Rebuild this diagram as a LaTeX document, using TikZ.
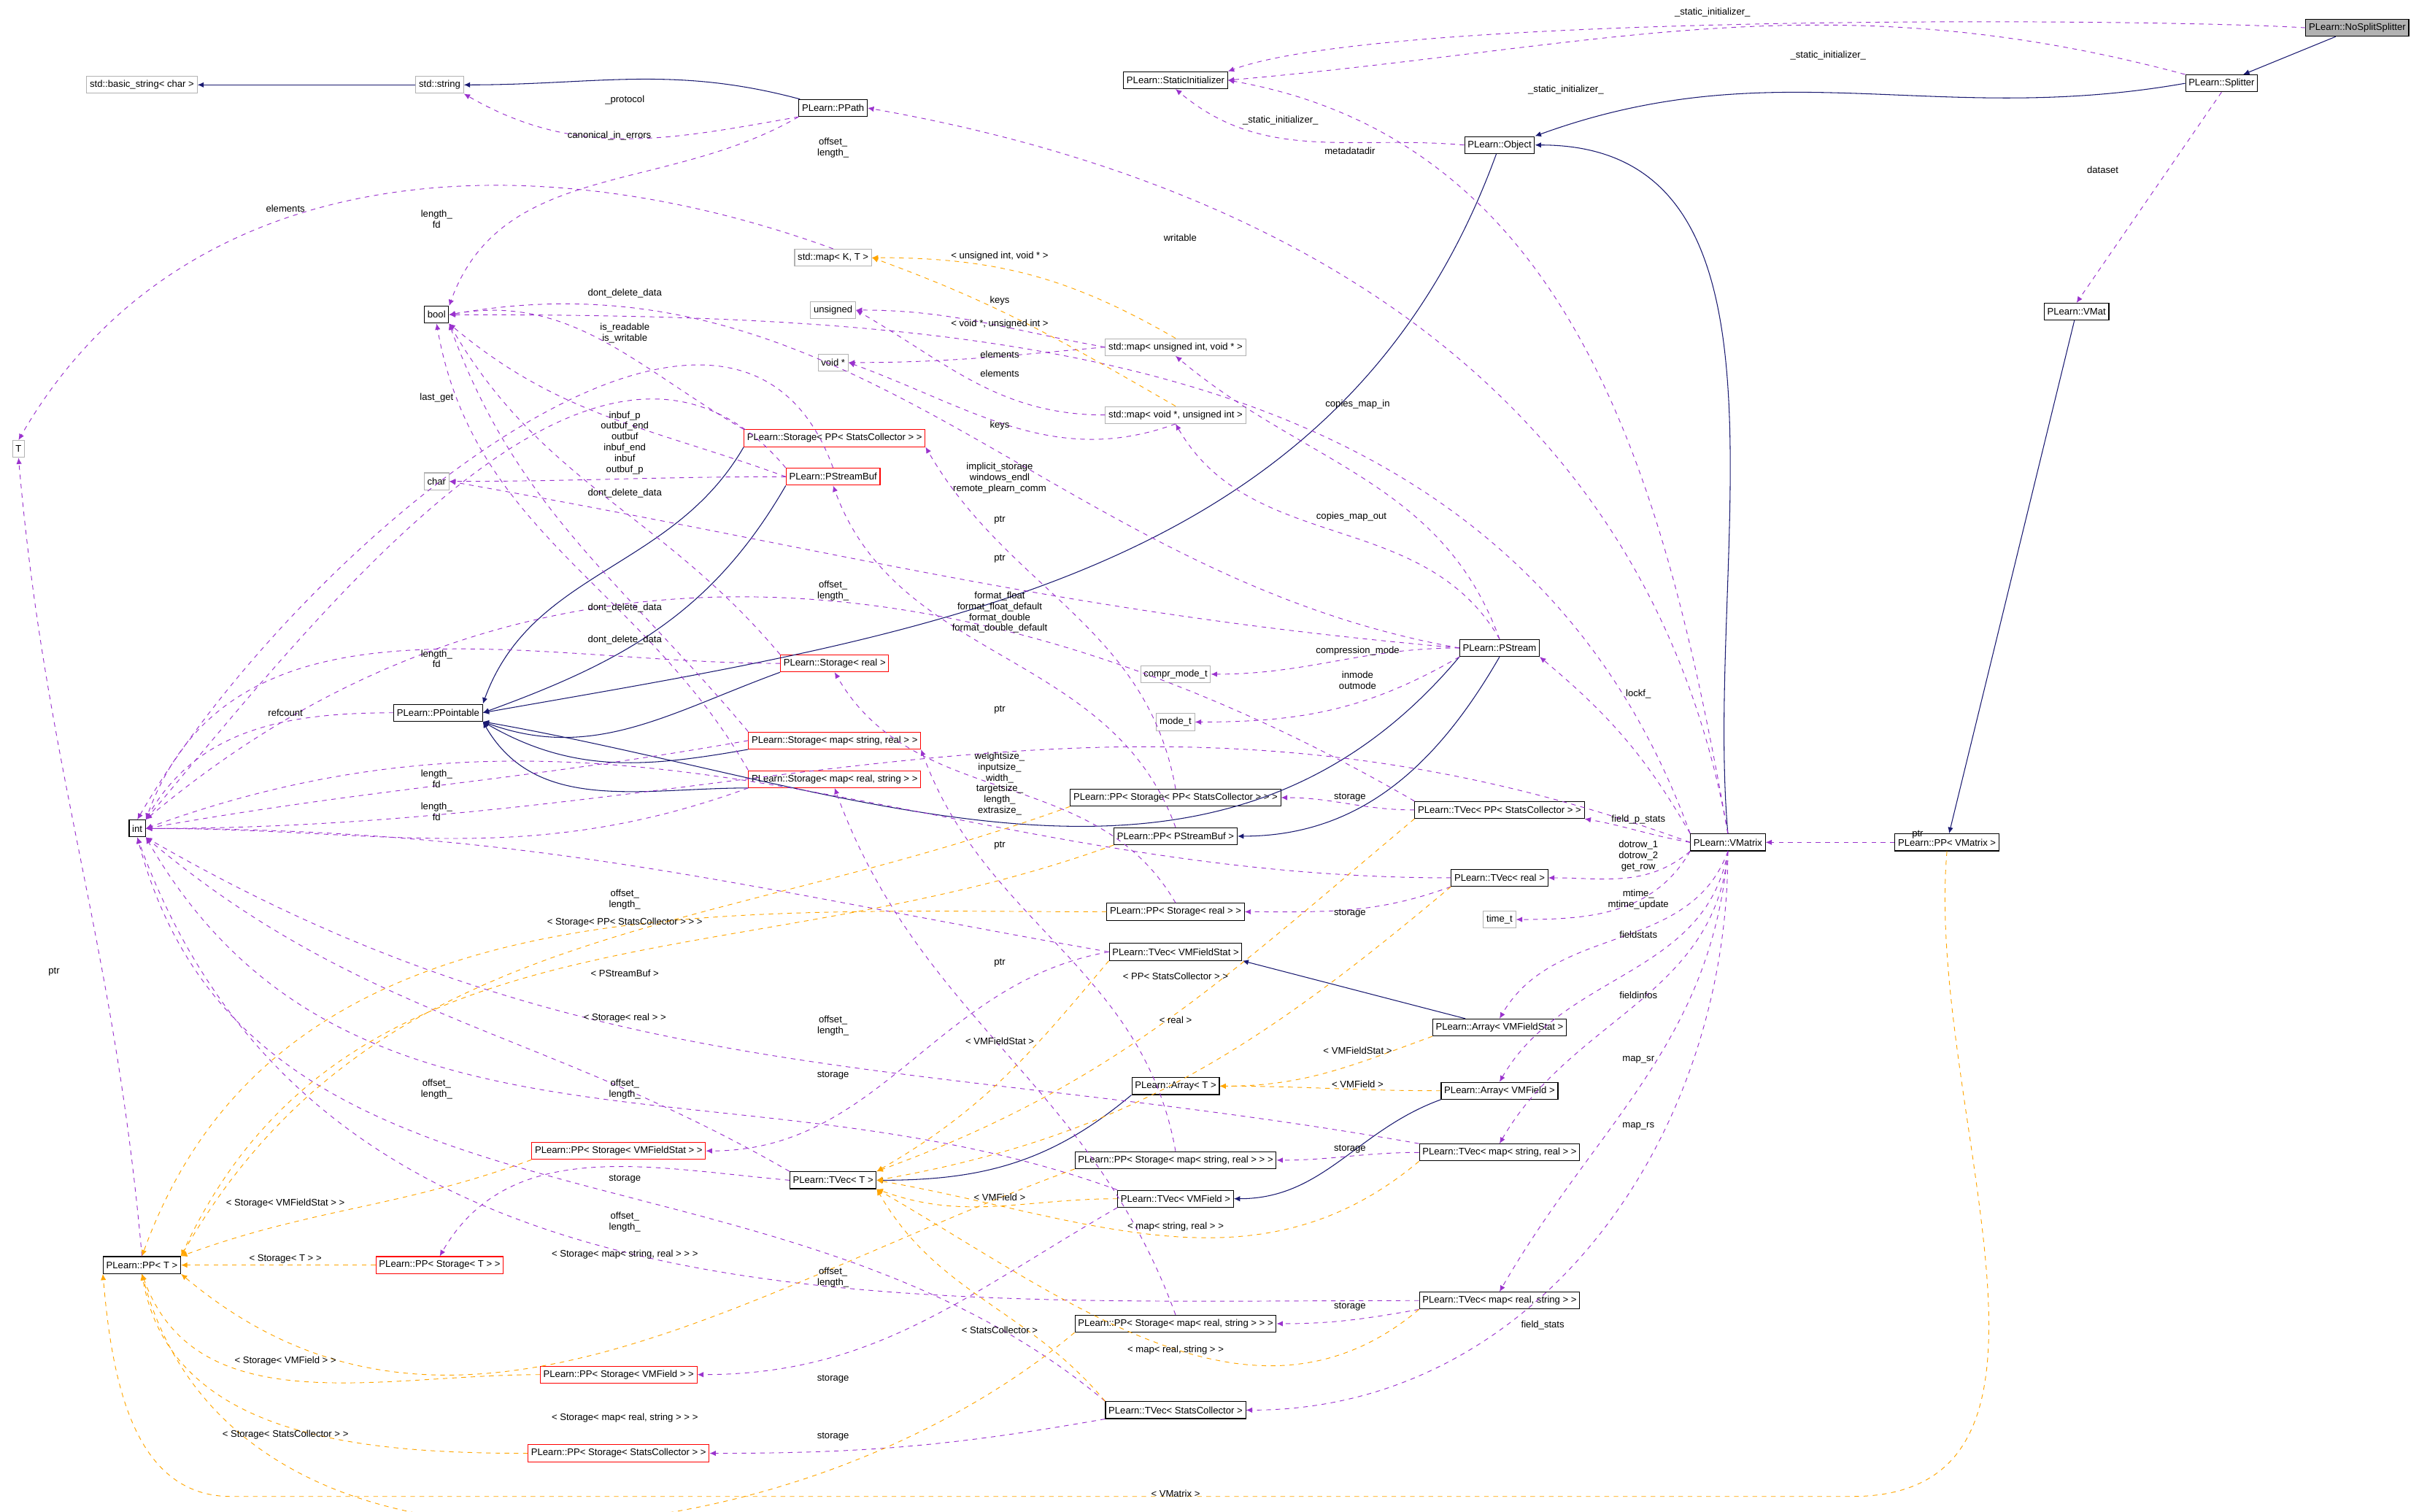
\documentclass[tikz,border=0pt]{standalone}
\usepackage{fontspec}
\setmainfont{Liberation Sans}
\usetikzlibrary{arrows.meta}
\definecolor{purp}{HTML}{9A32CD}
\definecolor{navy}{HTML}{191970}
\definecolor{orng}{HTML}{FFA500}
\newcounter{labc}
\newcommand\lab[2]{\stepcounter{labc}\node[lbl] (lab\arabic{labc}) at (#1) {#2};}
\begin{document}
\begin{tikzpicture}[x=1pt,y=-1pt,font=\fontsize{6.2}{7}\selectfont,
 box/.style={draw,line width=0.5pt,inner sep=2pt,minimum height=11pt,fill=white},
 cls/.style={box,draw=black},
 rbox/.style={box,draw=red},
 gbox/.style={box,draw=gray!60},
 tbox/.style={box,draw=black,fill=gray!60},
 lbl/.style={inner sep=0pt,align=center},
 inh/.style={navy,-{Latex[length=4pt,width=3.5pt]},line width=0.5pt},
 uses/.style={purp,dashed,-{Latex[length=4pt,width=3.5pt]},line width=0.45pt},
 tmpl/.style={orng,dashed,-{Latex[length=4pt,width=3.5pt]},line width=0.45pt}]
\path[use as bounding box] (0,0) rectangle (1568,980);
% nodes
\node[tbox] (nss) at (1528,18) {PLearn::NoSplitSplitter};
\node[cls] (spl) at (1440,54) {PLearn::Splitter};
\node[cls] (sti) at (762,52) {PLearn::StaticInitializer};
\node[cls] (obj) at (972,94) {PLearn::Object};
\node[cls] (vmat) at (1346,202) {PLearn::VMat};
\node[cls] (ppvm) at (1262,546) {PLearn::PP< VMatrix >};
\node[cls] (vm) at (1120,546) {PLearn::VMatrix};
\node[gbox] (bstr) at (92,55) {std::basic\_string< char >};
\node[gbox] (str) at (285,55) {std::string};
\node[cls] (ppath) at (540,70) {PLearn::PPath};
\node[cls] (bool) at (283,204) {bool};
\node[gbox] (mapkt) at (540,167) {std::map< K, T >};
\node[gbox] (uns) at (540,201) {unsigned};
\node[gbox] (voidp) at (540,235) {void *};
\node[gbox] (mapuv) at (762,225) {std::map< unsigned int, void * >};
\node[gbox] (mapvu) at (762,269) {std::map< void *, unsigned int >};
\node[gbox] (T) at (12,291) {T};
\node[rbox] (stppsc) at (541,284) {PLearn::Storage< PP< StatsCollector > >};
\node[rbox] (psb) at (540,309) {PLearn::PStreamBuf};
\node[gbox] (char) at (283,312) {char};
\node[cls] (pst) at (972,420) {PLearn::PStream};
\node[gbox] (cmt) at (762,437) {compr\_mode\_t};
\node[gbox] (mt) at (762,468) {mode\_t};
\node[rbox] (streal) at (541,430) {PLearn::Storage< real >};
\node[cls] (ppt) at (284,462) {PLearn::PPointable};
\node[rbox] (stmsr) at (541,480) {PLearn::Storage< map< string, real > >};
\node[rbox] (stmrs) at (541,505) {PLearn::Storage< map< real, string > >};
\node[cls] (int) at (89,537) {int};
\node[cls] (ppstppsc) at (762,517) {PLearn::PP< Storage< PP< StatsCollector > > >};
\node[cls] (pppsb) at (762,542) {PLearn::PP< PStreamBuf >};
\node[cls] (tvppsc) at (972,525) {PLearn::TVec< PP< StatsCollector > >};
\node[cls] (tvreal) at (972,569) {PLearn::TVec< real >};
\node[gbox] (timet) at (972,596) {time\_t};
\node[cls] (ppstreal) at (762,591) {PLearn::PP< Storage< real > >};
\node[cls] (tvvfs) at (762,617) {PLearn::TVec< VMFieldStat >};
\node[cls] (arvfs) at (972,666) {PLearn::Array< VMFieldStat >};
\node[cls] (art) at (762,704) {PLearn::Array< T >};
\node[cls] (arvf) at (972,707) {PLearn::Array< VMField >};
\node[rbox] (ppstvfs) at (401,746) {PLearn::PP< Storage< VMFieldStat > >};
\node[cls] (tvt) at (540,765) {PLearn::TVec< T >};
\node[cls] (ppstmsr) at (762,752) {PLearn::PP< Storage< map< string, real > > >};
\node[cls] (tvmsr) at (972,747) {PLearn::TVec< map< string, real > >};
\node[cls] (tvvf) at (762,777) {PLearn::TVec< VMField >};
\node[cls] (ppT) at (92,820) {PLearn::PP< T >};
\node[rbox] (ppstT) at (285,820) {PLearn::PP< Storage< T > >};
\node[cls] (tvmrs) at (972,843) {PLearn::TVec< map< real, string > >};
\node[cls] (ppstmrs) at (762,858) {PLearn::PP< Storage< map< real, string > > >};
\node[rbox] (ppstvf) at (401,891) {PLearn::PP< Storage< VMField > >};
\node[cls] (tvsc) at (762,914) {PLearn::TVec< StatsCollector >};
\node[rbox] (ppstsc) at (401,942) {PLearn::PP< Storage< StatsCollector > >};
% inheritance
\draw[inh] (nss) -- (spl);
\draw[inh] (spl.west) to[out=190,in=20] (obj.north east);
\draw[inh] (str) -- (bstr);
\draw[inh] (ppath) to[out=165,in=0] (str);
\draw[inh] (obj) to[out=250,in=10] (ppt.east);
\draw[inh] (stppsc.south west) to[out=240,in=70] (ppt.north east);
\draw[inh] (psb.south west) to[out=240,in=20] (ppt.east);
\draw[inh] (pst.south west) to[out=230,in=-10] (ppt.south east);
\draw[inh] (streal.south west) to[out=200,in=-20] (ppt.south east);
\draw[inh] (stmsr.south west) to[out=190,in=-30] (ppt.south east);
\draw[inh] (stmrs.south west) to[out=180,in=-60] (ppt.south east);
\draw[inh] (vm.north) to[out=95,in=0] (obj.east);
\draw[inh] (vmat) -- (ppvm);
\draw[inh] (pst.south) to[out=240,in=0] (pppsb.east);
\draw[inh] (arvfs) -- (tvvfs.south east);
\draw[inh] (arvf.south west) to[out=200,in=0] (tvvf.east);
\draw[inh] (art.south west) to[out=220,in=0] (tvt.east);
% uses
\draw[uses] (nss.west) .. controls (1400,12) and (900,8) .. (sti.north east);
\draw[uses] (spl.north west) to[out=165,in=5] (sti.east);
\draw[uses] (obj.west) to[out=175,in=-40] (sti.south);
\draw[uses] (vm.north) to[out=100,in=-10] (sti.east);
\draw[uses] (ppath.south west) to[out=190,in=-30] (str.south east);
\draw[uses] (ppath.south west) to[out=210,in=70] (bool.north east);
\draw[uses] (vm.north) to[out=100,in=-10] (ppath.east);
\draw[uses] (spl.south) -- (vmat.north);
\draw[uses] (ppvm) -- (vm);
\draw[uses] (vm.north west) to[out=120,in=-40] (pst.south east);
\draw[uses] (vm.west) to[out=170,in=-10] (tvppsc.south east);
\draw[uses] (vm.south west) to[out=220,in=0] (tvreal.east);
\draw[uses] (vm.south west) to[out=240,in=0] (timet.east);
\draw[uses] (vm.south) to[out=250,in=60] (arvfs.north);
\draw[uses] (vm.south) to[out=260,in=60] (arvf.north);
\draw[uses] (vm.south) to[out=265,in=60] (tvmsr.north);
\draw[uses] (vm.south) to[out=265,in=60] (tvmrs.north);
\draw[uses] (vm.south) to[out=270,in=0] (tvsc.east);
\draw[uses] (vm.north west) to[out=110,in=0] (bool.east);
\draw[uses] (vm.west) to[out=160,in=0] (int.east);
\draw[uses] (pst.north) to[out=110,in=-40] (mapuv.south);
\draw[uses] (pst.north) to[out=120,in=-60] (mapvu.south);
\draw[uses] (pst.west) to[out=180,in=0] (cmt.east);
\draw[uses] (pst.south west) to[out=210,in=0] (mt.east);
\draw[uses] (pst.west) to[out=170,in=10] (bool.east);
\draw[uses] (pst.west) to[out=175,in=-10] (char.east);
\draw[uses] (mapuv.west) to[out=170,in=0] (uns.east);
\draw[uses] (mapuv.west) to[out=185,in=0] (voidp.east);
\draw[uses] (mapvu.west) to[out=180,in=-30] (uns.east);
\draw[uses] (mapvu.south) to[out=200,in=-20] (voidp.east);
\draw[tmpl] (mapuv.north) to[out=150,in=0] (mapkt.east);
\draw[tmpl] (mapvu.north) to[out=150,in=-20] (mapkt.east);
\draw[uses] (mapkt.north) to[out=160,in=60] (T.north);
\draw[uses] (ppT.north) to[out=95,in=-85] (T.south);
\draw[uses] (psb.west) to[out=160,in=-40] (bool.south east);
\draw[uses] (psb.west) to[out=180,in=0] (char.east);
\draw[uses] (psb.north west) to[out=130,in=50] (int.north east);
\draw[uses] (psb.north) to[out=110,in=60] (int.north);
\draw[uses] (stppsc.north west) to[out=150,in=10] (bool.east);
\draw[uses] (streal.north west) to[out=130,in=-60] (bool.south east);
\draw[uses] (streal.west) to[out=180,in=70] (int.north east);
\draw[uses] (stmsr.north west) to[out=130,in=-70] (bool.south east);
\draw[uses] (stmsr.west) to[out=190,in=10] (int.east);
\draw[uses] (stmrs.north west) to[out=120,in=-80] (bool.south);
\draw[uses] (stmrs.south west) to[out=200,in=0] (int.east);
\draw[uses] (ppt.west) to[out=180,in=60] (int.north east);
\draw[uses] (pppsb.north) to[out=110,in=-70] (psb.south);
\draw[uses] (ppstppsc.north) to[out=100,in=-60] (stppsc.south east);
\draw[uses] (ppstreal.north) to[out=120,in=-60] (streal.south);
\draw[uses] (ppstmsr.north) to[out=100,in=-70] (stmsr.south east);
\draw[uses] (ppstmrs.north) to[out=110,in=-70] (stmrs.south);
\draw[uses] (tvppsc.west) to[out=180,in=0] (ppstppsc.east);
\draw[uses] (tvreal.south west) to[out=200,in=0] (ppstreal.east);
\draw[uses] (tvvfs.west) to[out=190,in=0] (ppstvfs.east);
\draw[uses] (tvmsr.west) to[out=180,in=0] (ppstmsr.east);
\draw[uses] (tvvf.south west) to[out=210,in=0] (ppstvf.east);
\draw[uses] (tvmrs.south west) to[out=190,in=0] (ppstmrs.east);
\draw[uses] (tvsc.south west) to[out=190,in=0] (ppstsc.east);
\draw[uses] (tvt.west) to[out=175,in=60] (ppstT.north);
\draw[uses] (tvppsc.north west) to[out=150,in=40] (int.north east);
\draw[uses] (tvreal.west) to[out=180,in=20] (int.east);
\draw[uses] (tvvfs.west) to[out=170,in=0] (int.east);
\draw[uses] (tvt.north west) to[out=150,in=-40] (int.south east);
\draw[uses] (tvmsr.north west) to[out=170,in=-30] (int.south east);
\draw[uses] (tvvf.north west) to[out=160,in=-60] (int.south east);
\draw[uses] (tvmrs.west) to[out=180,in=-70] (int.south);
\draw[uses] (tvsc.north west) to[out=140,in=-75] (int.south);
% templates
\draw[tmpl] (ppstppsc.south west) to[out=200,in=60] (ppT.north east);
\draw[tmpl] (pppsb.south west) to[out=200,in=65] (ppT.north east);
\draw[tmpl] (ppstreal.west) to[out=180,in=70] (ppT.north);
\draw[tmpl] (ppstvfs.south west) to[out=200,in=20] (ppT.north east);
\draw[tmpl] (ppstT.west) -- (ppT.east);
\draw[tmpl] (ppstmsr.south west) to[out=200,in=-40] (ppT.south east);
\draw[tmpl] (ppstvf.west) to[out=180,in=-70] (ppT.south);
\draw[tmpl] (ppstmrs.south west) to[out=220,in=-75] (ppT.south);
\draw[tmpl] (ppstsc.west) to[out=180,in=-80] (ppT.south);
\draw[tmpl] (ppvm.south) to[out=265,in=0] (1200,970) -- (150,970) to[out=180,in=-85] (ppT.south west);
\draw[tmpl] (tvppsc.south west) to[out=220,in=20] (tvt.north east);
\draw[tmpl] (tvreal.south west) to[out=220,in=10] (tvt.east);
\draw[tmpl] (tvvfs.south west) to[out=230,in=30] (tvt.north east);
\draw[tmpl] (tvvf.west) to[out=180,in=-20] (tvt.south east);
\draw[tmpl] (tvmsr.south west) to[out=220,in=-10] (tvt.east);
\draw[tmpl] (tvmrs.south west) to[out=220,in=-30] (tvt.south east);
\draw[tmpl] (tvsc.north west) to[out=130,in=-60] (tvt.south east);
\draw[tmpl] (arvfs.south west) to[out=200,in=0] (art.east);
\draw[tmpl] (arvf.west) to[out=180,in=0] (art.east);
% labels
\lab{1110,8}{\_static\_initializer\_}
\lab{1185,36}{\_static\_initializer\_}
\lab{1015,58}{\_static\_initializer\_}
\lab{830,78}{\_static\_initializer\_}
\lab{405,65}{\_protocol}
\lab{395,88}{canonical\_in\_errors}
\lab{540,96}{offset\_\\length\_}
\lab{875,98}{metadatadir}
\lab{1363,110}{dataset}
\lab{185,135}{elements}
\lab{283,142}{length\_\\fd}
\lab{765,154}{writable}
\lab{648,166}{< unsigned int, void * >}
\lab{405,190}{dont\_delete\_data}
\lab{648,195}{keys}
\lab{405,216}{is\_readable\\is\_writable}
\lab{648,210}{< void *, unsigned int >}
\lab{648,230}{elements}
\lab{648,242}{elements}
\lab{880,262}{copies\_map\_in}
\lab{283,258}{last\_get}
\lab{405,287}{inbuf\_p\\outbuf\_end\\outbuf\\inbuf\_end\\inbuf\\outbuf\_p}
\lab{648,276}{keys}
\lab{648,310}{implicit\_storage\\windows\_endl\\remote\_plearn\_comm}
\lab{405,320}{dont\_delete\_data}
\lab{648,337}{ptr}
\lab{876,335}{copies\_map\_out}
\lab{648,362}{ptr}
\lab{540,383}{offset\_\\length\_}
\lab{648,397}{format\_float\\format\_float\_default\\format\_double\\format\_double\_default}
\lab{405,394}{dont\_delete\_data}
\lab{405,415}{dont\_delete\_data}
\lab{283,427}{length\_\\fd}
\lab{880,422}{compression\_mode}
\lab{880,441}{inmode\\outmode}
\lab{1062,450}{lockf\_}
\lab{185,462}{refcount}
\lab{648,460}{ptr}
\lab{648,508}{weightsize\_\\inputsize\_\\width\_\\targetsize\_\\length\_\\extrasize\_}
\lab{283,505}{length\_\\fd}
\lab{283,526}{length\_\\fd}
\lab{875,517}{storage}
\lab{1062,531}{field\_p\_stats}
\lab{648,548}{ptr}
\lab{1062,555}{dotrow\_1\\dotrow\_2\\get\_row}
\lab{1243,541}{ptr}
\lab{405,583}{offset\_\\length\_}
\lab{405,598}{< Storage< PP< StatsCollector > > >}
\lab{875,592}{storage}
\lab{1062,583}{mtime\_\\mtime\_update}
\lab{1062,606}{fieldstats}
\lab{405,631}{< PStreamBuf >}
\lab{648,624}{ptr}
\lab{762,633}{< PP< StatsCollector > >}
\lab{405,660}{< Storage< real > >}
\lab{762,661}{< real >}
\lab{1062,645}{fieldinfos}
\lab{540,665}{offset\_\\length\_}
\lab{648,675}{< VMFieldStat >}
\lab{880,681}{< VMFieldStat >}
\lab{283,706}{offset\_\\length\_}
\lab{405,706}{offset\_\\length\_}
\lab{540,697}{storage}
\lab{880,703}{< VMField >}
\lab{1062,687}{map\_sr}
\lab{405,764}{storage}
\lab{185,780}{< Storage< VMFieldStat > >}
\lab{648,776}{< VMField >}
\lab{875,745}{storage}
\lab{762,795}{< map< string, real > >}
\lab{1062,730}{map\_rs}
\lab{185,816}{< Storage< T > >}
\lab{405,792}{offset\_\\length\_}
\lab{405,813}{< Storage< map< string, real > > >}
\lab{540,828}{offset\_\\length\_}
\lab{875,847}{storage}
\lab{648,862}{< StatsCollector >}
\lab{762,875}{< map< real, string > >}
\lab{1000,859}{field\_stats}
\lab{185,882}{< Storage< VMField > >}
\lab{540,894}{storage}
\lab{405,919}{< Storage< map< real, string > > >}
\lab{185,930}{< Storage< StatsCollector > >}
\lab{540,931}{storage}
\lab{762,968}{< VMatrix >}
\lab{35,630}{ptr}
\end{tikzpicture}
\end{document}
